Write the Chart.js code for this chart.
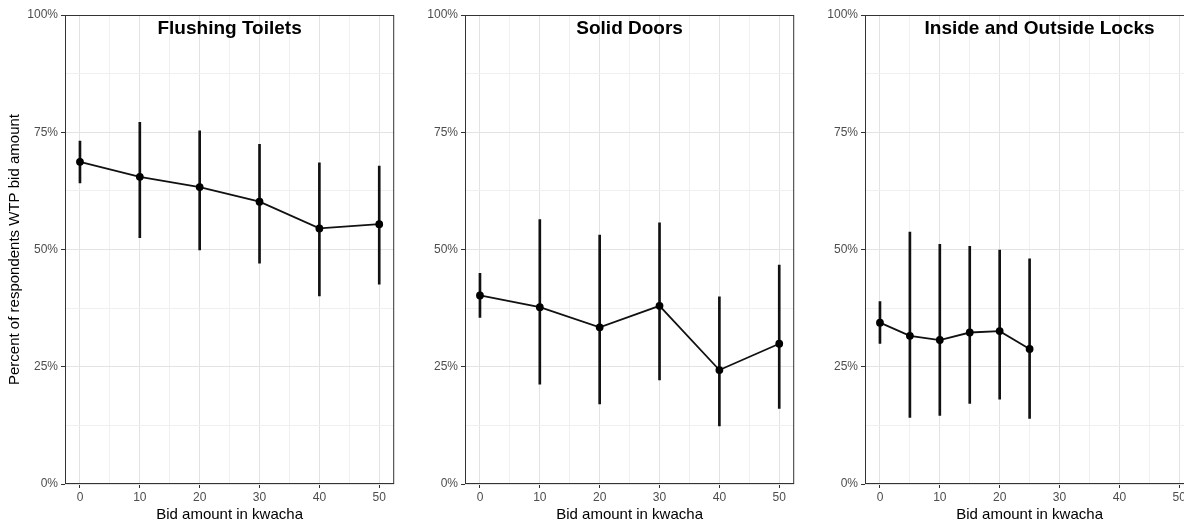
<!DOCTYPE html>
<html>
<head>
<meta charset="utf-8">
<script src="https://cdn.jsdelivr.net/npm/chart.js"></script>
<style>
  html, body { margin: 0; padding: 0; background: #fff; overflow: hidden; width: 1184px; height: 522px; }
  .panel { position: absolute; top: 0; width: 400px; height: 522px; }
</style>
</head>
<body>
<div class="panel" style="left:0px"><canvas id="toilets" width="400" height="522"></canvas></div>
<div class="panel" style="left:400px"><canvas id="doors" width="400" height="522"></canvas></div>
<div class="panel" style="left:800px"><canvas id="locks" width="400" height="522"></canvas></div>
<script>
// bid amounts (kwacha)
var bids = [0, 10, 20, 30, 40, 50];
var lockBids = [0, 5, 10, 15, 20, 25];

// percent willing to pay, with interval ends
var toiletPct = [68.7, 65.5, 63.3, 60.2, 54.5, 55.4];
var toiletLow = [64.2, 52.5, 49.9, 47.1, 40.1, 42.6];
var toiletHigh = [73.1, 77.1, 75.3, 72.4, 68.5, 67.8];

var doorPct = [40.2, 37.7, 33.4, 38.0, 24.3, 29.9];
var doorLow = [35.5, 21.3, 17.1, 22.2, 12.4, 16.1];
var doorHigh = [44.9, 56.4, 53.1, 55.7, 39.9, 46.7];

var lockPct = [34.4, 31.6, 30.7, 32.3, 32.6, 28.8];
var lockLow = [30.0, 14.2, 14.6, 17.2, 18.1, 14.0];
var lockHigh = [38.9, 53.7, 51.1, 50.7, 49.9, 48.0];

// axis ticks (major + minor grid)
var xTicks = [0, 5, 10, 15, 20, 25, 30, 35, 40, 45, 50];
var yTicks = [0, 12.5, 25, 37.5, 50, 62.5, 75, 87.5, 100];

var FONT = '"Liberation Sans", Arial, Helvetica, sans-serif';

// frame around the panel + title inside it
var panelFrame = {
    id: 'panelFrame',
    afterDraw: function(chart, args, opts) {
        var ctx = chart.ctx, a = chart.chartArea;
        ctx.save();
        ctx.strokeStyle = '#333333';
        ctx.lineWidth = 1;
        ctx.strokeRect(a.left + 0.5, a.top + 0.5, a.right - a.left - 1, a.bottom - a.top - 1);
        ctx.font = 'bold 19px ' + FONT;
        ctx.fillStyle = '#000';
        ctx.textAlign = 'center';
        ctx.textBaseline = 'middle';
        ctx.fillText(opts.text, (a.left + a.right) / 2 + (opts.dx || 0), a.top + 14);
        ctx.restore();
    }
};

function makePanel(id, title, xs, pct, low, high, yTitle, dx) {
    var ctx = document.getElementById(id).getContext('2d');
    return new Chart(ctx, {
        type: 'line',
        data: {
            datasets: [{
                type: 'line',
                data: xs.map(function(x, i) { return {x: x, y: pct[i]}; }),
                borderColor: '#111',
                borderWidth: 1.8,
                pointRadius: 3,
                pointBackgroundColor: '#000',
                pointBorderColor: '#000',
                order: 1
            }, {
                type: 'bar',
                data: xs.map(function(x, i) { return {x: x, y: [low[i], high[i]]}; }),
                backgroundColor: '#111',
                borderWidth: 0,
                barThickness: 2,
                order: 2
            }]
        },
        options: {
            responsive: false,
            animation: false,
            layout: { padding: { top: 15, right: 5, left: 0, bottom: 0 } },
            plugins: {
                legend: { display: false },
                tooltip: { enabled: false },
                panelFrame: { text: title, dx: dx }
            },
            scales: {
                x: {
                    type: 'linear',
                    min: -2.5,
                    max: 52.5,
                    offset: false,
                    afterBuildTicks: function(s) { s.ticks = xTicks.map(function(v) { return {value: v}; }); },
                    afterFit: function(s) { s.height = 38; },
                    border: { display: false },
                    grid: {
                        offset: false,
                        tickLength: 4,
                        color: function(c) { return c.tick && c.tick.value % 10 === 0 ? '#e3e3e3' : '#f0f0f0'; },
                        tickColor: function(c) { return c.tick && c.tick.value % 10 === 0 ? '#333333' : 'rgba(0,0,0,0)'; }
                    },
                    ticks: {
                        autoSkip: false,
                        maxRotation: 0,
                        padding: 2,
                        color: '#4d4d4d',
                        font: { family: FONT, size: 12 },
                        callback: function(v) { return v % 10 === 0 ? String(v) : ''; }
                    },
                    title: {
                        display: true,
                        text: 'Bid amount in kwacha',
                        color: '#000',
                        font: { family: FONT, size: 15 },
                        padding: { top: 0, bottom: -1.5 }
                    }
                },
                y: {
                    type: 'linear',
                    min: 0,
                    max: 100,
                    afterBuildTicks: function(s) { s.ticks = yTicks.map(function(v) { return {value: v}; }); },
                    afterFit: function(s) { s.width = 65; },
                    border: { display: false },
                    grid: {
                        tickLength: 4,
                        color: function(c) { return c.tick && c.tick.value % 25 === 0 ? '#e3e3e3' : '#f0f0f0'; },
                        tickColor: function(c) { return c.tick && c.tick.value % 25 === 0 ? '#333333' : 'rgba(0,0,0,0)'; }
                    },
                    ticks: {
                        autoSkip: false,
                        padding: 3,
                        color: '#4d4d4d',
                        font: { family: FONT, size: 12 },
                        callback: function(v) { return v % 25 === 0 ? v + '%' : ''; }
                    },
                    title: {
                        display: yTitle,
                        text: 'Percent of respondents WTP bid amount',
                        color: '#000',
                        font: { family: FONT, size: 15 },
                        padding: { top: 6, bottom: 0 }
                    }
                }
            }
        },
        plugins: [panelFrame]
    });
}

makePanel('toilets', 'Flushing Toilets', bids, toiletPct, toiletLow, toiletHigh, true, 0);
makePanel('doors', 'Solid Doors', bids, doorPct, doorLow, doorHigh, false, 0);
makePanel('locks', 'Inside and Outside Locks', lockBids, lockPct, lockLow, lockHigh, false, 10);
</script>
</body>
</html>
